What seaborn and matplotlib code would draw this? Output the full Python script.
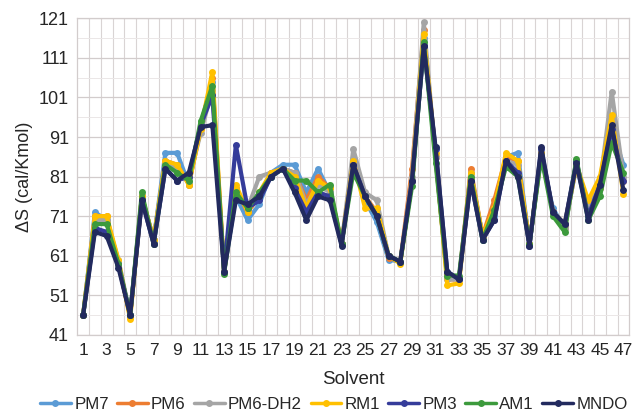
import numpy as np
import pandas as pd
import matplotlib
matplotlib.use("Agg")
import matplotlib.pyplot as plt
import seaborn as sns

# Data
solvents = list(range(1, 48))

pm7 = [46, 72, 70, 59, 46, 76, 65, 87, 87, 79, 94, 105, 57, 76, 70, 74, 82, 84, 84, 77,
       83, 77, 64, 85, 75, 69.5, 60, 59.5, 80, 116, 86, 56, 55, 82, 66, 71, 86, 87, 64, 86,
       73, 68, 84, 71, 78, 93, 84]
pm6 = [46, 71, 71, 59, 45.5, 76, 65, 85, 84, 79, 93, 106, 57, 78, 72, 76, 82, 83, 82, 75,
       81, 78, 64, 85, 76, 72, 60.5, 59.5, 83, 118, 86, 55, 55, 83, 66, 75, 86, 85, 64, 87,
       72, 68, 84, 72, 78, 96, 80]
pm6_dh2 = [46, 70, 70, 60, 46, 76, 65, 85, 83, 80, 92, 103, 57, 77, 73, 81, 82, 83, 82, 74,
           79, 77, 64, 88, 77, 75, 61, 59.5, 81, 120, 86, 55, 55, 82, 66, 72, 85, 84, 64, 87,
           72, 68, 84, 73, 79, 102.5, 81]
rm1 = [46, 71, 71, 60, 45, 76, 65, 85, 84, 79, 93, 107.5, 57, 79, 72, 77, 82, 83, 81, 73,
       80, 78, 64, 85, 73, 73, 61, 59, 80, 117, 87, 53.5, 54, 82, 66, 73, 87, 85, 64, 87,
       72, 69, 84, 75, 81, 96.5, 76.5]
pm3 = [46, 68, 67, 59, 46, 75, 64, 83, 80, 81, 94, 101.5, 57, 89, 73, 75, 81, 83, 78, 72,
       77, 76, 64, 84, 76, 71, 61, 59.5, 80, 114, 88, 57, 55, 80, 65, 70, 85, 82, 63.5, 88,
       72, 69, 85, 71, 79, 93, 80]
am1 = [46, 69, 69, 59, 46, 77, 64, 84, 82, 80, 95, 104, 56.5, 77, 73, 77, 81, 83, 80, 80,
       77, 79, 64, 82, 76, 71, 61, 59.5, 78.5, 115, 84.5, 56, 56, 81, 65, 72.5, 83.5, 81, 64, 86,
       71, 67, 85.5, 70, 76, 89.5, 82]
mndo = [46, 67, 66, 58, 46, 75, 64, 83, 80, 82, 93.5, 94, 57, 75, 74, 76, 81, 83, 77, 70,
        76, 75, 63.5, 84, 76, 71, 61, 59.5, 80, 114, 88.5, 57, 55, 80, 65, 70, 85, 81, 63.5, 88.5,
        72, 69, 84.5, 70, 79, 94, 77.5]

methods = ["PM7", "PM6", "PM6-DH2", "RM1", "PM3", "AM1", "MNDO"]
colors = ["#5b9bd5", "#ed7d31", "#a5a5a5", "#ffc000", "#353c9a", "#3c9a3c", "#222a5e"]

df = pd.concat([
    pd.DataFrame({"Solvent": solvents, "dS": vals, "Method": name})
    for name, vals in zip(methods, [pm7, pm6, pm6_dh2, rm1, pm3, am1, mndo])
])

sns.set_style("white")
plt.rcParams["font.family"] = ["Liberation Sans", "DejaVu Sans"]

fig = plt.figure(figsize=(6.36, 4.17), dpi=100)
ax = fig.add_axes([0.1215, 0.197, 0.868, 0.759])

sns.lineplot(data=df, x="Solvent", y="dS", hue="Method", hue_order=methods,
             palette=colors, marker="o", markersize=5, markeredgewidth=0,
             linewidth=3, ax=ax, legend=False)

# Excel-like category axis: points centred in cells
ax.set_xlim(0.5, 47.5)
ax.set_ylim(41, 121)
ax.set_xticks(range(1, 48, 2))
ax.set_yticks(range(41, 122, 10))
ax.grid(False)
for xv in np.arange(1.5, 47, 1):
    ax.axvline(xv, color="#d9d4d4", lw=0.8, zorder=0)
for yv in range(41, 122, 10):
    ax.axhline(yv, color="#d2cccc", lw=0.9, zorder=0)
for yv in range(46, 121, 10):
    ax.axhline(yv, color="#ebe7e7", lw=0.7, zorder=0)
for s in ax.spines.values():
    s.set_color("#d2cccc")
    s.set_linewidth(0.9)
ax.tick_params(axis="both", which="both", length=0)
ax.tick_params(axis="y", labelsize=13, pad=6)
ax.tick_params(axis="x", labelsize=12.5, pad=6)

ax.set_xlabel("Solvent", fontsize=13.5, labelpad=9)
ax.set_ylabel("ΔS (cal/Kmol)", fontsize=13, labelpad=4)

handles = [plt.Line2D([], [], color=c, lw=2.5, marker="o", markersize=4) for c in colors]
fig.legend(handles, methods, loc="lower center", bbox_to_anchor=(0.525, -0.025), ncol=7,
           frameon=False, fontsize=12.2, handlelength=1.8, handletextpad=0.2, columnspacing=0.5)

fig.savefig("out.png", dpi=100)
